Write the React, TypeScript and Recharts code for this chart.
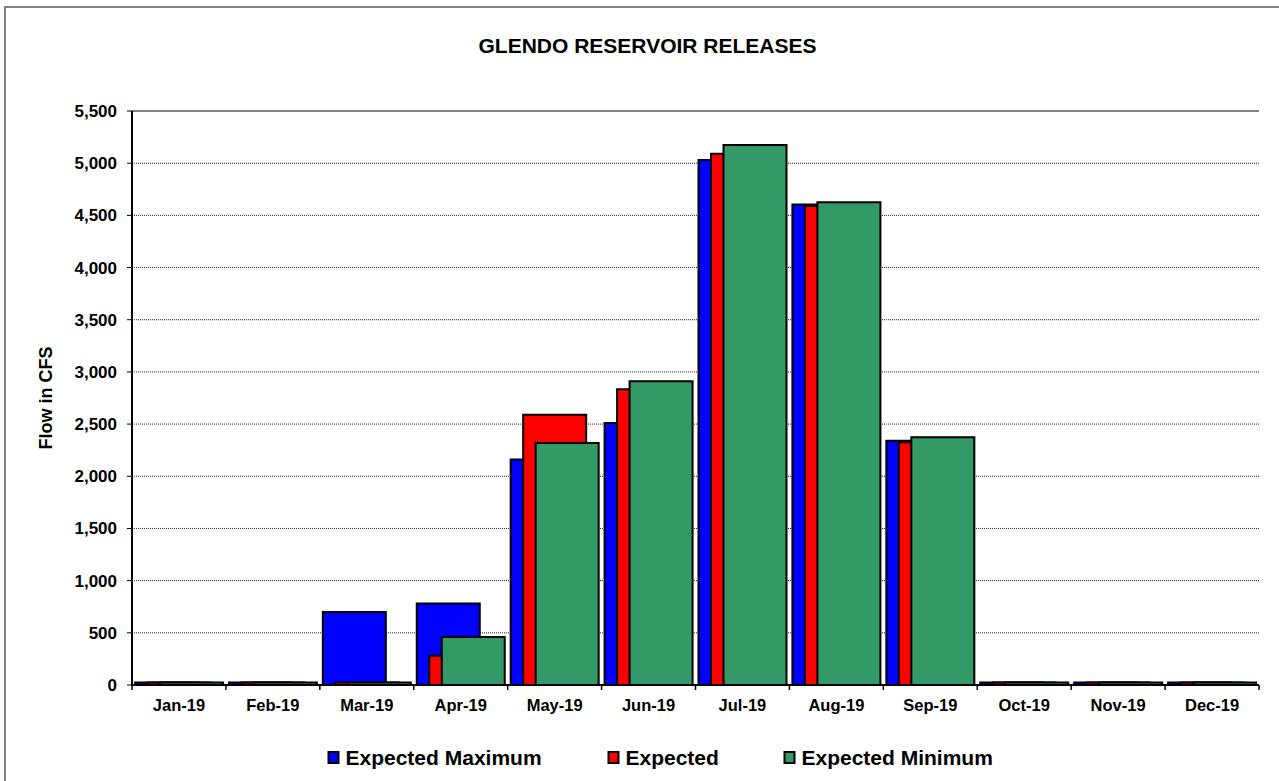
import { BarChart, Bar, XAxis, YAxis, CartesianGrid, ReferenceLine } from "recharts";

const months = [
  "Jan-19", "Feb-19", "Mar-19", "Apr-19", "May-19", "Jun-19",
  "Jul-19", "Aug-19", "Sep-19", "Oct-19", "Nov-19", "Dec-19",
];
const expectedMaximum = [25, 25, 700, 780, 2160, 2510, 5030, 4605, 2340, 25, 25, 25];
const expected = [25, 25, 25, 280, 2590, 2835, 5090, 4590, 2325, 25, 25, 25];
const expectedMinimum = [25, 25, 25, 460, 2320, 2910, 5175, 4625, 2375, 25, 25, 25];
const yTicks = [0, 500, 1000, 1500, 2000, 2500, 3000, 3500, 4000, 4500, 5000, 5500];

const seriesInfo = [
  { key: "max", name: "Expected Maximum", color: "#0000FF" },
  { key: "exp", name: "Expected", color: "#FF0000" },
  { key: "min", name: "Expected Minimum", color: "#339966" },
];

const data = months.map((month, i) => ({
  month,
  max: expectedMaximum[i],
  exp: expected[i],
  min: expectedMinimum[i],
}));

// minor tick marks every 100 cfs along the left axis
const minorTicks = Array.from({ length: 56 }, (_, i) => i * 100);

const FONT = "'Liberation Sans', Arial, sans-serif";
const W = 1279;
const H = 781;
const margin = { top: 111, right: 20, bottom: 56, left: 0 };
const Y_AXIS_W = 132;
const X_AXIS_H = 40;
const plotBottom = H - margin.bottom - X_AXIS_H;
const plotWidth = W - margin.left - margin.right - Y_AXIS_W;
const band = plotWidth / months.length;

function MonthTick(props: any) {
  const { x, payload, index } = props;
  const left = x - band / 2;
  return (
    <g>
      <line x1={left} x2={left} y1={plotBottom} y2={plotBottom + 5} stroke="#000" strokeWidth={1.5} />
      {index === months.length - 1 && (
        <line x1={x + band / 2} x2={x + band / 2} y1={plotBottom} y2={plotBottom + 5} stroke="#000" strokeWidth={1.5} />
      )}
      <text x={x} y={plotBottom + 26} textAnchor="middle" fontFamily={FONT} fontWeight="bold" fontSize={16.5} fill="#000">
        {payload.value}
      </text>
    </g>
  );
}

export default function App() {
  return (
    <div style={{ position: "fixed", left: 0, top: 0, width: W, height: H, background: "#fff" }}>
      <BarChart
        width={W}
        height={H}
        data={data}
        margin={margin}
        barGap={-50.5}
        barSize={63}
      >
        <CartesianGrid vertical={false} stroke="#222" strokeDasharray="1 1" />
        <XAxis
          dataKey="month"
          height={X_AXIS_H}
          interval={0}
          tickLine={false}
          axisLine={{ stroke: "#000", strokeWidth: 2 }}
          tick={<MonthTick />}
        />
        <YAxis
          width={Y_AXIS_W}
          domain={[0, 5500]}
          ticks={yTicks}
          interval={0}
          tickSize={5}
          tickMargin={10}
          tickLine={{ stroke: "#000" }}
          axisLine={{ stroke: "#000", strokeWidth: 2 }}
          tick={{ fill: "#000", fontSize: 17, fontWeight: "bold", fontFamily: FONT }}
          tickFormatter={(v: number) => v.toLocaleString("en-US")}
        />
        <YAxis
          yAxisId="minor"
          mirror
          width={0}
          domain={[0, 5500]}
          ticks={minorTicks}
          interval={0}
          tick={false}
          tickSize={3}
          tickLine={{ stroke: "#000" }}
          axisLine={false}
        />
        <YAxis
          yAxisId="right"
          orientation="right"
          width={0}
          domain={[0, 5500]}
          tick={false}
          tickLine={false}
          axisLine={{ stroke: "#808080", strokeWidth: 2 }}
        />
        <ReferenceLine y={5500} stroke="#808080" strokeWidth={2} />
        {seriesInfo.map((s) => (
          <Bar
            key={s.key}
            dataKey={s.key}
            name={s.name}
            fill={s.color}
            stroke="#000"
            strokeWidth={2}
            isAnimationActive={false}
          />
        ))}
      </BarChart>
      <svg
        width={W}
        height={H}
        style={{ position: "absolute", left: 0, top: 0, pointerEvents: "none" }}
      >
        <rect x={5} y={7} width={1320} height={820} fill="none" stroke="#808080" strokeWidth={2} />
        <text x={647.5} y={53} textAnchor="middle" fontFamily={FONT} fontWeight="bold" fontSize={21} fill="#000">
          GLENDO RESERVOIR RELEASES
        </text>
        <text
          transform="translate(52,398) rotate(-90)"
          textAnchor="middle"
          fontFamily={FONT}
          fontWeight="bold"
          fontSize={18}
          fill="#000"
        >
          Flow in CFS
        </text>
        {seriesInfo.map((s, i) => {
          const sx = [328.5, 608.5, 784.5][i];
          return (
            <g key={s.key}>
              <rect x={sx} y={752} width={10} height={11} fill={s.color} stroke="#000" strokeWidth={2} />
              <text x={sx + 17} y={765} fontFamily={FONT} fontWeight="bold" fontSize={21} fill="#000">
                {s.name}
              </text>
            </g>
          );
        })}
      </svg>
    </div>
  );
}
